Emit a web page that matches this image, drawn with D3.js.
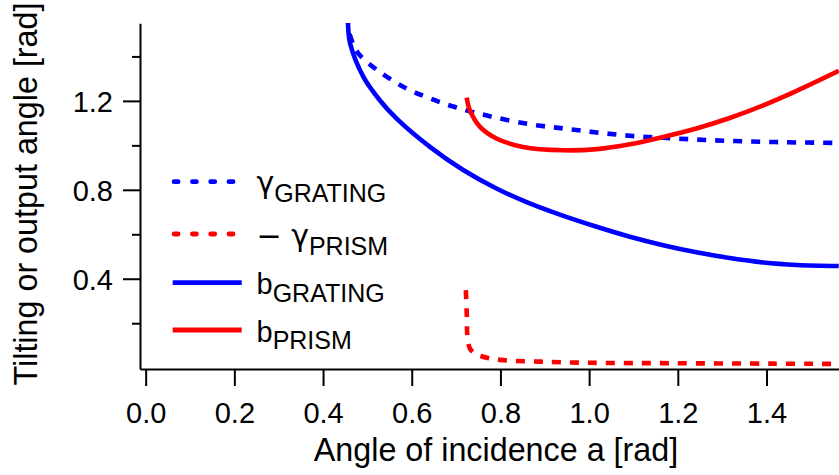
<!DOCTYPE html>
<html>
<head>
<meta charset="utf-8">
<script src="https://cdn.jsdelivr.net/npm/d3@7"></script>
<style>
  body { margin: 0; background: #fff; }
  svg { display: block; font-family: "Liberation Sans", Arial, sans-serif; }
</style>
</head>
<body>
<svg width="839" height="475"></svg>
<script>
// Values (angles in rad)
const gammaGratingX = [0.460, 0.468, 0.483, 0.528, 0.588, 0.641, 0.701, 0.776, 0.866, 0.942, 1.017, 1.092, 1.167, 1.242, 1.317, 1.393, 1.468, 1.563];
const gammaGratingY = [1.500, 1.455, 1.405, 1.330, 1.256, 1.211, 1.170, 1.131, 1.095, 1.076, 1.058, 1.043, 1.034, 1.026, 1.020, 1.016, 1.013, 1.011];

const gammaPrismX = [0.722, 0.724, 0.725, 0.727, 0.731, 0.740, 0.754, 0.799, 0.889, 1.002, 1.190, 1.415, 1.563];
const gammaPrismY = [0.349, 0.244, 0.155, 0.115, 0.087, 0.066, 0.053, 0.035, 0.027, 0.022, 0.020, 0.018, 0.017];

const betaGratingX = [0.456, 0.457, 0.461, 0.491, 0.528, 0.566, 0.641, 0.716, 0.791, 0.866, 0.942, 1.017, 1.092, 1.167, 1.242, 1.317, 1.393, 1.468, 1.563];
const betaGratingY = [1.570, 1.520, 1.458, 1.308, 1.203, 1.120, 0.993, 0.889, 0.806, 0.739, 0.683, 0.634, 0.589, 0.551, 0.519, 0.493, 0.473, 0.462, 0.457];

const betaPrismX = [0.724, 0.731, 0.754, 0.791, 0.851, 0.942, 1.017, 1.092, 1.167, 1.242, 1.317, 1.393, 1.468, 1.563];
const betaPrismY = [1.215, 1.158, 1.083, 1.031, 0.993, 0.978, 0.983, 1.005, 1.038, 1.076, 1.123, 1.180, 1.245, 1.335];

const xTicks = [0.0, 0.2, 0.4, 0.6, 0.8, 1.0, 1.2, 1.4];
const yMajorTicks = [0.4, 0.8, 1.2];
const yMinorTicks = [0.2, 0.6, 1.0, 1.4];

const seriesNames = ["γ|GRATING", "− γ|PRISM", "b|GRATING", "b|PRISM"];
const seriesColors = ["#0000ff", "#ff0000", "#0000ff", "#ff0000"];
const seriesDashed = [true, true, false, false];

const svg = d3.select("svg");

const x = d3.scaleLinear().domain([-0.0128, 1.5635]).range([140, 839]);
const y = d3.scaleLinear().domain([-0.006, 1.549]).range([369, 23.3]);

svg
  .append("clipPath")
  .attr("id", "plot-clip")
  .append("rect")
  .attr("x", 140)
  .attr("y", 23)
  .attr("width", 700)
  .attr("height", 346);

// Curves
const series = [
  d3.zip(gammaGratingX, gammaGratingY),
  d3.zip(gammaPrismX, gammaPrismY),
  d3.zip(betaGratingX, betaGratingY),
  d3.zip(betaPrismX, betaPrismY),
];

const line = d3
  .line()
  .x((d) => x(d[0]))
  .y((d) => y(d[1]))
  .curve(d3.curveCatmullRom.alpha(0.5));

svg
  .append("g")
  .attr("clip-path", "url(#plot-clip)")
  .selectAll("path")
  .data(series)
  .enter()
  .append("path")
  .attr("d", line)
  .attr("fill", "none")
  .attr("stroke", (d, i) => seriesColors[i])
  .attr("stroke-width", 4.6)
  .attr("stroke-dasharray", (d, i) => (seriesDashed[i] ? "9,9" : null));

// Axes
const xAxis = svg
  .append("g")
  .attr("transform", "translate(0,369)")
  .call(
    d3
      .axisBottom(x)
      .tickValues(xTicks)
      .tickSize(17)
      .tickSizeOuter(0)
      .tickFormat(d3.format(".1f"))
  );

xAxis
  .selectAll("text")
  .attr("y", 53.7)
  .attr("dy", null)
  .attr("font-size", 29);

const yAxis = svg
  .append("g")
  .attr("transform", "translate(140,0)")
  .call(
    d3
      .axisLeft(y)
      .tickValues(yMajorTicks)
      .tickSize(17)
      .tickSizeOuter(0)
      .tickPadding(10)
      .tickFormat(d3.format(".1f"))
  );

yAxis.selectAll("text").attr("dy", "0.37em").attr("font-size", 29);

svg
  .append("g")
  .attr("transform", "translate(140,0)")
  .call(d3.axisLeft(y).tickValues(yMinorTicks).tickSize(8).tickFormat(""))
  .select(".domain")
  .remove();

svg
  .selectAll(".domain, .tick line")
  .attr("stroke", "#000")
  .attr("stroke-width", 2);

// Axis titles
svg
  .append("text")
  .attr("x", 496)
  .attr("y", 461)
  .attr("text-anchor", "middle")
  .attr("font-size", 32.3)
  .text("Angle of incidence a [rad]");

svg
  .append("text")
  .attr("transform", "translate(37,194) rotate(-90)")
  .attr("text-anchor", "middle")
  .attr("font-size", 32.3)
  .text("Tilting or output angle [rad]");

// Legend
const legendRows = [181.7, 234, 282.7, 330];

const legend = svg
  .append("g")
  .selectAll("g")
  .data(seriesNames)
  .enter()
  .append("g")
  .attr("transform", (d, i) => `translate(0,${legendRows[i]})`);

legend
  .append("line")
  .attr("x1", (d, i) => (seriesDashed[i] ? 174.1 : 172.7))
  .attr("x2", (d, i) => (seriesDashed[i] ? 233 : 241.7))
  .attr("stroke", (d, i) => seriesColors[i])
  .attr("stroke-width", 4.8)
  .attr("stroke-linecap", (d, i) => (seriesDashed[i] ? "round" : "butt"))
  .attr("stroke-dasharray", (d, i) => (seriesDashed[i] ? "4,14.3" : null));

const legendText = legend.append("text").attr("x", 256.5);

legendText
  .append("tspan")
  .attr("font-family", (d, i) => (i < 2 ? "'DejaVu Sans'" : null))
  .attr("font-size", (d, i) => (i < 2 ? 30 : 29))
  .attr("dy", (d, i) => [11.5, 11.5, 11.3, 11.7][i])
  .text((d) => d.split("|")[0]);

legendText
  .append("tspan")
  .attr("font-size", 25)
  .attr("dy", (d, i) => (i < 2 ? 9 : 7.5))
  .text((d) => d.split("|")[1]);
</script>
</body>
</html>
